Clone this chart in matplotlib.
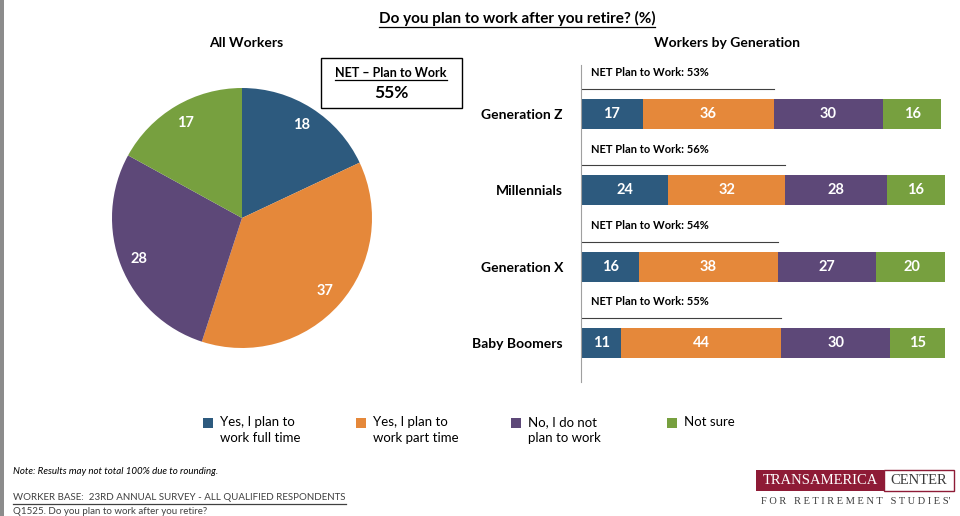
import matplotlib
matplotlib.use("Agg")
import matplotlib.pyplot as plt
from matplotlib.patches import Rectangle
from matplotlib.lines import Line2D

plt.rcParams["font.family"] = ["Lato", "DejaVu Sans"]

# data
answers = ["Yes, I plan to\nwork full time", "Yes, I plan to\nwork part time",
           "No, I do not\nplan to work", "Not sure"]
colors = ["#2D5A7E", "#E5883A", "#5D4878", "#77A03F"]
all_workers = [18, 37, 28, 17]
net_all = 55

generations = ["Generation Z", "Millennials", "Generation X", "Baby Boomers"]
full_time = [17, 24, 16, 11]
part_time = [36, 32, 38, 44]
no_plan = [30, 28, 27, 30]
not_sure = [16, 16, 20, 15]
net_gen = [53, 56, 54, 55]

W, H = 960, 516
fig = plt.figure(figsize=(W / 100, H / 100), dpi=100)


def fx(px):
    return px / W


def fy(py):
    return 1 - py / H


# gray strip at left edge
fig.add_artist(Rectangle((0, 0), fx(4), 1, transform=fig.transFigure,
                         color="#8c8c8c", lw=0))

# title with underline
title = fig.text(fx(517), fy(18), "Do you plan to work after you retire? (%)",
                 ha="center", va="center", fontsize=11, fontweight="bold")
fig.text(fx(246), fy(43), "All Workers", ha="center", va="center",
         fontsize=10, fontweight="bold")
fig.text(fx(727), fy(43), "Workers by Generation", ha="center", va="center",
         fontsize=10, fontweight="bold")

# pie
cx, cy, r = 242, 218, 130
axp = fig.add_axes([fx(cx - r), fy(cy + r), 2 * r / W, 2 * r / H])
axp.pie(all_workers, colors=colors, startangle=90, counterclock=False,
        autopct=lambda p: f"{p:.0f}", pctdistance=0.85,
        textprops=dict(color="white", fontsize=10.5, fontweight="bold"))
axp.set_xlim(-1, 1)
axp.set_ylim(-1, 1)
axp.set_aspect("auto")

# NET box
fig.add_artist(Rectangle((fx(321), fy(108)), fx(141), 50 / H, transform=fig.transFigure,
                         fill=False, ec="black", lw=1))
net_lbl = fig.text(fx(391), fy(73), "NET – Plan to Work", ha="center", va="center",
                   fontsize=9, fontweight="bold")
fig.text(fx(391), fy(93), f"{net_all}%", ha="center", va="center",
         fontsize=12.5, fontweight="bold")

# bars
top_px, bot_px, x0_px, x1_px = 65, 382, 581, 945
row0, step = 114, 76.33
axb = fig.add_axes([fx(x0_px), fy(bot_px), (x1_px - x0_px) / W, (bot_px - top_px) / H])
ylo = -(row0 - top_px) / step
yhi = 3 + (bot_px - (row0 + 3 * step)) / step
ys = list(range(len(generations)))
left = [0] * len(generations)
for vals, c in zip([full_time, part_time, no_plan, not_sure], colors):
    bars = axb.barh(ys, vals, left=left, height=30 / step, color=c, lw=0)
    for b, v in zip(bars, vals):
        axb.text(b.get_x() + b.get_width() / 2, b.get_y() + b.get_height() / 2, str(v),
                 ha="center", va="center", color="white", fontsize=10.5, fontweight="bold")
    left = [l + v for l, v in zip(left, vals)]
for y, n in zip(ys, net_gen):
    axb.text(2.8, y - 41 / step, f"NET Plan to Work: {n}%", ha="left", va="center",
             fontsize=8, fontweight="bold")
    axb.plot([0, n], [y - 25 / step] * 2, color="#404040", lw=0.8)
axb.set_xlim(0, 100)
axb.set_ylim(yhi, ylo)
axb.set_yticks(ys)
axb.set_yticklabels(generations, fontsize=10, fontweight="bold")
axb.tick_params(axis="y", length=0, pad=13)
axb.set_xticks([])
for s in ["top", "right", "bottom"]:
    axb.spines[s].set_visible(False)
axb.spines["left"].set_color("#a0a0a0")
axb.patch.set_visible(False)

# legend
for x, lab, c in zip([203, 356, 511, 667], answers, colors):
    fig.add_artist(Rectangle((fx(x), fy(428)), fx(10), 10 / H, transform=fig.transFigure,
                             color=c, lw=0))
    fig.text(fx(x + 17), fy(416), lab, ha="left", va="top", fontsize=9.5,
             linespacing=1.45)

# footnotes
fig.text(fx(13), fy(472), "Note: Results may not total 100% due to rounding.",
         ha="left", va="center", fontsize=7, style="italic")
base = fig.text(fx(13), fy(498), "WORKER BASE:  23RD ANNUAL SURVEY - ALL QUALIFIED RESPONDENTS",
                ha="left", va="center", fontsize=7, color="#404040")
fig.text(fx(13), fy(512), "Q1525. Do you plan to work after you retire?",
         ha="left", va="center", fontsize=7, color="#404040")

# logo
fig.add_artist(Rectangle((fx(756), fy(491)), fx(128), 21 / H, transform=fig.transFigure,
                         color="#8E1B36", lw=0))
fig.add_artist(Rectangle((fx(884), fy(491)), fx(70), 21 / H, transform=fig.transFigure,
                         fill=False, ec="#8E1B36", lw=1))
fig.text(fx(820), fy(481), "TRANSAMERICA", ha="center", va="center", fontsize=10.5,
         color="white", family="Liberation Serif")
fig.text(fx(919), fy(481), "CENTER", ha="center", va="center", fontsize=10.5,
         color="#3a3a3a", family="Liberation Serif")
fig.text(fx(856), fy(501), "F O R   R E T I R E M E N T   S T U D I E S'", ha="center",
         va="center", fontsize=7.5, color="#3a3a3a", family="Liberation Serif")

# underlines
fig.canvas.draw()
inv = fig.transFigure.inverted()
for t in [title, net_lbl, base]:
    bb = t.get_window_extent()
    (a0, b0), (a1, _) = inv.transform([(bb.x0, bb.y0), (bb.x1, bb.y1)])
    fig.add_artist(Line2D([a0, a1], [b0 - 1 / H] * 2, transform=fig.transFigure,
                          color=t.get_color(), lw=0.9))

fig.savefig("out.png", dpi=100)
